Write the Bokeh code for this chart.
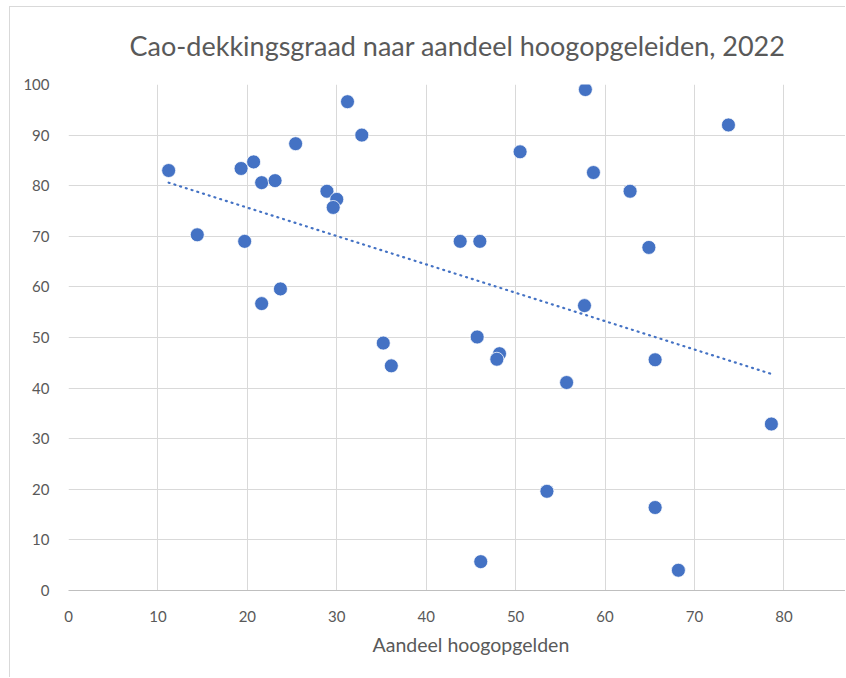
import numpy as np
from bokeh.plotting import figure
from bokeh.models import ColumnDataSource, Range1d, FixedTicker, Title
from bokeh.embed import file_html
from bokeh.resources import INLINE

# Data
aandeel_hoogopgeleiden = [11.2, 14.4, 19.3, 20.7, 19.7, 21.6, 23.1, 25.4, 21.6, 23.7,
                          28.9, 30.0, 29.6, 31.2, 32.8, 35.2, 36.1, 43.8, 46.0, 45.7,
                          48.2, 47.9, 50.5, 55.7, 53.5, 46.1, 57.8, 58.7, 57.7, 62.8,
                          64.9, 65.6, 65.6, 68.2, 73.8, 78.6]
cao_dekkingsgraad = [83.0, 70.3, 83.4, 84.7, 69.0, 80.6, 81.0, 88.3, 56.7, 59.6,
                     78.9, 77.3, 75.7, 96.6, 90.0, 48.9, 44.4, 69.0, 69.0, 50.1,
                     46.8, 45.7, 86.7, 41.1, 19.6, 5.7, 99.0, 82.6, 56.3, 78.9,
                     67.8, 45.6, 16.4, 4.0, 92.0, 32.9]
x_ticks = [0, 10, 20, 30, 40, 50, 60, 70, 80, 90]
y_ticks = [0, 10, 20, 30, 40, 50, 60, 70, 80, 90, 100]

title_text = "Cao-dekkingsgraad naar aandeel hoogopgeleiden, 2022"
x_label = "Aandeel hoogopgelden"

BLUE = "#4472C4"
GREY_TEXT = "#595959"
FONT = "Lato"

p = figure(width=836, height=671, output_backend="svg", toolbar_location=None,
           x_range=Range1d(0, 87), y_range=Range1d(0, 100),
           min_border_left=58, min_border_right=0, min_border_top=77, min_border_bottom=88)

p.title.text = title_text
p.title.align = "center"
p.title.vertical_align = "top"
p.title.text_font = FONT
p.title.text_font_size = "27px"
p.title.text_font_style = "normal"
p.title.text_color = GREY_TEXT
p.title.offset = 0
p.title.standoff = 41

p.outline_line_color = None
p.background_fill_color = "white"
p.border_fill_color = "white"

# grid
p.xgrid.ticker = FixedTicker(ticks=x_ticks)
p.ygrid.ticker = FixedTicker(ticks=y_ticks)
p.xgrid.grid_line_color = "#d9d9d9"
p.ygrid.grid_line_color = "#d9d9d9"
p.xgrid.grid_line_width = 1
p.ygrid.grid_line_width = 1

# axes
p.xaxis.ticker = FixedTicker(ticks=x_ticks)
p.yaxis.ticker = FixedTicker(ticks=y_ticks)
for ax in (p.xaxis[0], p.yaxis[0]):
    ax.major_tick_line_color = None
    ax.minor_tick_line_color = None
    ax.major_label_text_font = FONT
    ax.major_label_text_font_size = "15px"
    ax.major_label_text_color = GREY_TEXT
p.xaxis.axis_line_color = "#bfbfbf"
p.xaxis.axis_line_width = 1
p.yaxis.axis_line_color = None
p.xaxis.major_label_standoff = 14
p.yaxis.major_label_standoff = 13

# scatter
src = ColumnDataSource(dict(x=aandeel_hoogopgeleiden, y=cao_dekkingsgraad))
p.scatter("x", "y", source=src, size=14, fill_color=BLUE, line_color="white",
          line_width=0.75)

# linear trendline (least squares)
xs = np.array(aandeel_hoogopgeleiden)
ys = np.array(cao_dekkingsgraad)
slope, intercept = np.polyfit(xs, ys, 1)
tx = [xs.min(), xs.max()]
ty = [intercept + slope * v for v in tx]
p.line(tx, ty, line_color=BLUE, line_width=2.2, line_dash="1 5", line_cap="round")

# x axis title, positioned like the original chart (centred on full plot area)
p.add_layout(Title(text=x_label, align="left", offset=304, standoff=12,
                   text_font=FONT, text_font_size="19.5px", text_font_style="normal",
                   text_color=GREY_TEXT), "below")

p.styles = {"margin-left": "9px", "margin-top": "6px",
            "border-left": "1px solid #d9d9d9", "border-top": "1px solid #d9d9d9"}

open("out.html", "w").write(file_html(p, INLINE))
